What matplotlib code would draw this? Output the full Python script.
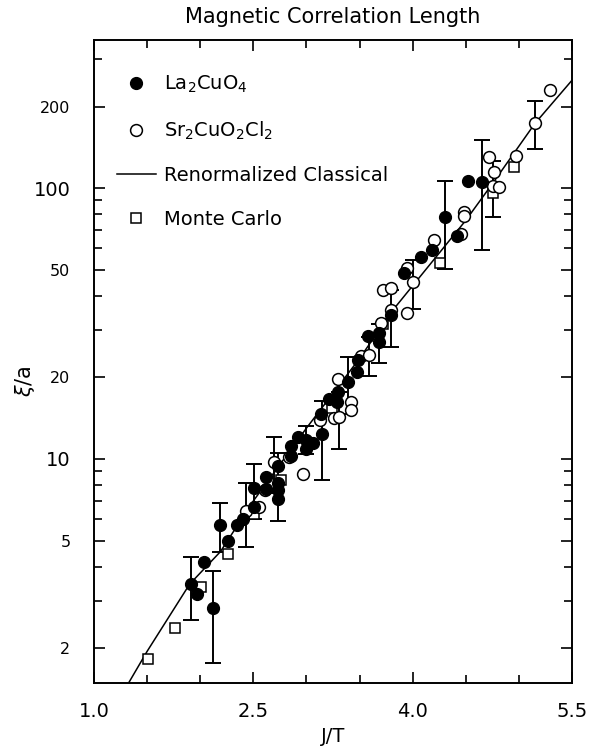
import numpy as np
import matplotlib
matplotlib.use("Agg")
import matplotlib.pyplot as plt
from matplotlib.lines import Line2D
from matplotlib.ticker import FixedLocator, NullFormatter

# La2CuO4 (filled circles): J/T, xi/a, error (0 = no bar)
la_x = [1.910, 1.967, 2.039, 2.118, 2.186, 2.262, 2.343, 2.400, 2.510, 2.510,
        2.617, 2.617, 2.735, 2.735, 2.735, 2.735, 2.852, 2.852, 2.924, 2.996,
        2.996, 3.065, 3.144, 3.135, 3.216, 3.291, 3.300, 3.395, 3.480, 3.489,
        3.583, 3.686, 3.686, 3.794, 3.919, 4.076, 4.180, 4.305, 4.415, 4.520,
        4.650]
la_y = [3.45, 3.17, 4.18, 2.81, 5.69, 4.99, 5.69, 5.99, 7.80, 6.67,
        8.61, 7.75, 9.42, 8.18, 7.68, 7.10, 11.2, 10.3, 12.1, 11.8,
        10.9, 11.5, 12.4, 14.7, 16.7, 16.3, 17.6, 19.2, 21.0, 23.1,
        28.5, 29.1, 27.1, 34.0, 48.7, 55.5, 59.0, 78.4, 66.5, 106.0,
        105.0]
la_err = [0.9, 0, 0, 1.05, 1.17, 0, 0, 0, 1.8, 0,
          0, 0, 0, 2.3, 0, 0, 0, 0, 0, 1.4,
          0, 0, 4.0, 0, 0, 0, 0, 4.5, 0, 0,
          0, 0, 4.5, 8.0, 0, 0, 0, 28.0, 0, 0,
          46.0]

# Sr2CuO2Cl2 (open circles)
sr_x = [2.428, 2.557, 2.610, 2.695, 2.839, 2.965, 3.130, 3.260, 3.310, 3.300,
        3.417, 3.417, 3.511, 3.592, 3.700, 3.724, 3.794, 3.794, 3.944, 3.950,
        4.001, 4.201, 4.452, 4.484, 4.484, 4.722, 4.766, 4.760, 4.816, 4.974,
        5.152, 5.294]
sr_y = [6.45, 6.64, 7.70, 9.77, 10.2, 8.80, 13.9, 14.2, 14.3, 19.7,
        16.3, 15.2, 24.0, 24.2, 31.7, 42.0, 42.7, 35.5, 34.7, 50.5,
        45.1, 64.2, 67.4, 81.9, 79.0, 130.0, 115.0, 102.0, 101.0, 131.0,
        174.0, 231.0]
sr_err = [1.7, 0, 0, 2.25, 0, 0, 0, 0, 3.4, 0,
          0, 0, 0, 4.0, 0, 0, 0, 0, 0, 0,
          9.3, 0, 0, 0, 0, 0, 0, 23.5, 0, 0,
          35.0, 0]

# Monte Carlo (open squares)
mc_x = [1.511, 1.763, 2.008, 2.259, 2.507, 2.758, 3.238, 3.724, 4.258, 4.760, 4.955]
mc_y = [1.82, 2.37, 3.36, 4.46, 6.27, 8.36, 15.4, 31.4, 53.1, 95.5, 120.0]

# renormalized classical curve
rc_x = [1.33, 1.5, 1.9, 2.19, 2.5, 3.0, 3.5, 3.815, 4.0, 4.5, 4.76, 5.15, 5.5]
rc_y = [1.5, 1.95, 3.45, 4.55, 7.0, 13.0, 23.5, 35.5, 43.6, 76.0, 105.0, 173.0, 250.0]

x_major = [1.0, 2.5, 4.0, 5.5]
x_labels = ["1.0", "2.5", "4.0", "5.5"]
y_small = [2, 5, 20, 50, 200]
y_big = [10, 100]

plt.rcParams['font.family'] = ['DejaVu Sans']

fig = plt.figure(figsize=(6.08, 7.49), dpi=100)
ax = fig.add_axes([94/608, 1 - 683/749, 478/608, 643/749])

ax.plot(rc_x, rc_y, color='black', lw=1.1, zorder=2)

def bars(x, y, e):
    idx = [i for i in range(len(e)) if e[i] > 0]
    ax.errorbar([x[i] for i in idx], [y[i] for i in idx], yerr=[e[i] for i in idx],
                fmt='none', ecolor='black', elinewidth=1.4, capsize=6, capthick=1.4, zorder=3)

bars(la_x, la_y, la_err)
bars(sr_x, sr_y, sr_err)

ax.plot(mc_x, mc_y, 's', ms=7.5, mfc='white', mec='black', mew=1.1, zorder=4)
ax.plot(sr_x, sr_y, 'o', ms=8.5, mfc='white', mec='black', mew=1.1, zorder=5)
ax.plot(la_x, la_y, 'o', ms=8.5, mfc='black', mec='black', zorder=6)

ax.set_yscale('log')
ax.set_xlim(1.0, 5.5)
ax.set_ylim(1.49, 352)

ax.xaxis.set_major_locator(FixedLocator(x_major))
ax.xaxis.set_minor_locator(FixedLocator(np.arange(1.0, 5.51, 0.5)))
ax.set_xticklabels(x_labels, fontsize=14)

minor_y = [v * d for d in [1, 10, 100] for v in range(2, 10) if v * d < 352]
ax.yaxis.set_major_locator(FixedLocator(y_small + y_big))
ax.yaxis.set_minor_locator(FixedLocator(minor_y))
ax.yaxis.set_minor_formatter(NullFormatter())
ax.set_yticklabels([str(v) for v in y_small + y_big])
for lab, v in zip(ax.get_yticklabels(), y_small + y_big):
    lab.set_fontsize(14 if v in y_big else 11.5)

ax.tick_params(which='both', direction='in', top=True, right=True, width=1.2)
ax.tick_params(which='major', length=8)
ax.tick_params(axis='x', which='major', pad=14)
ax.tick_params(axis='y', which='major', pad=17)
ax.tick_params(which='minor', length=6)
for s in ax.spines.values():
    s.set_linewidth(1.4)

ax.set_xlabel("J/T", fontsize=14, labelpad=4)
ax.set_ylabel(r"$\xi$/a", fontsize=15)
ax.yaxis.set_label_coords(-0.12, 0.47)
ax.set_title("Magnetic Correlation Length", fontsize=15, pad=12)

handles = [
    Line2D([], [], ls='none', marker='o', ms=8.5, mfc='black', mec='black'),
    Line2D([], [], ls='none', marker='o', ms=8.5, mfc='white', mec='black', mew=1.1),
    Line2D([], [], color='black', lw=1.1),
    Line2D([], [], ls='none', marker='s', ms=7.5, mfc='white', mec='black', mew=1.1),
]
labels = [r"La$_2$CuO$_4$", r"Sr$_2$CuO$_2$Cl$_2$", "Renormalized Classical", "Monte Carlo"]
ax.legend(handles, labels, loc='upper left', bbox_to_anchor=(0.048, 0.947),
          frameon=False, fontsize=14, handlelength=2.0, handletextpad=0.4,
          labelspacing=1.25, borderaxespad=0, borderpad=0)

fig.savefig("out.png", dpi=100)
